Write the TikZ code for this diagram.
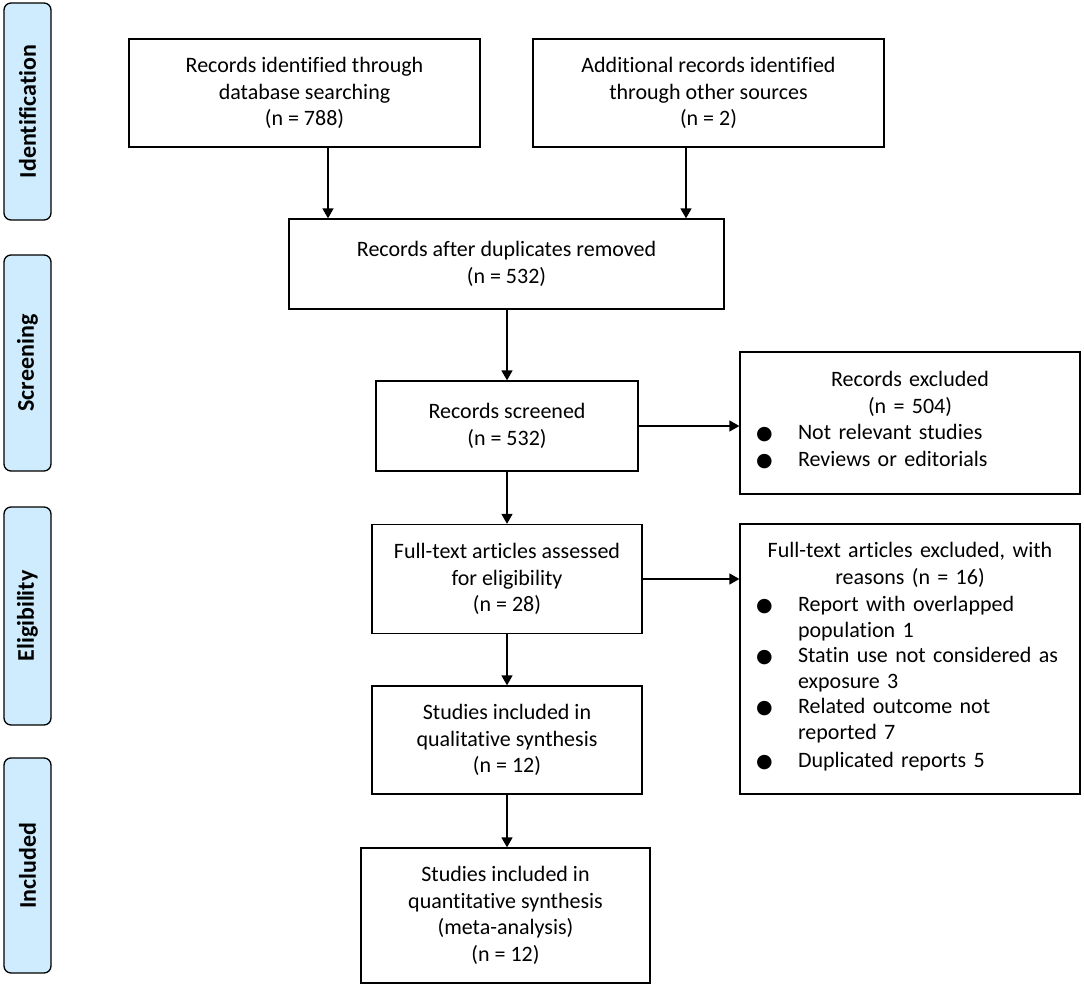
\documentclass[tikz,border=0pt]{standalone}
\usepackage{fontspec}
\setmainfont{Carlito}[Ligatures=NoCommon]
\newfontfamily\symfont{DejaVu Sans}
\usetikzlibrary{arrows.meta}
\definecolor{phasefill}{RGB}{206,236,253}
\tikzset{
  box/.style={draw, line width=1.3pt, align=center, inner sep=0pt, font=\fontsize{22}{26.7}\selectfont},
  exbox/.style={box, align=left, text width=308pt, inner xsep=16pt},
  phase/.style={draw, line width=1.3pt, fill=phasefill, rounded corners=7pt, rotate=90, minimum height=47pt, inner sep=0pt, font=\bfseries\fontsize{24}{26}\selectfont},
  arr/.style={line width=1.6pt, -{Triangle[length=10pt,width=11pt]}}
}
\newcommand\bul{\makebox[42pt][l]{\fontsize{19}{19}\symfont ●}}
\newcommand\bulitem[1]{\bul\parbox[t]{266pt}{\raggedright #1\strut}\par}
\begin{document}
\begin{tikzpicture}[x=1pt,y=-1pt]
\useasboundingbox (0,0) rectangle (1084,987);

% phases
\node[phase, minimum width=217pt] (ident) at (27.5,111.5) {Identification};
\node[phase, minimum width=216pt] (screen) at (27.5,363) {Screening};
\node[phase, minimum width=218pt] (elig) at (27.5,616) {Eligibility};
\node[phase, minimum width=215pt] (incl) at (27.5,865.5) {Included};

% main flow
\node[box, minimum width=351pt, minimum height=108pt] (dbrec) at (304.5,93) {Records identified through\\database searching\\(n = 788)};
\node[box, minimum width=351pt, minimum height=108pt] (otherrec) at (708.5,93) {Additional records identified\\through other sources\\(n = 2)};
\node[box, minimum width=435pt, minimum height=90pt] (dedup) at (506.5,264) {Records after duplicates removed\\(n = 532)};
\node[box, minimum width=262pt, minimum height=90pt] (screened) at (507,426) {Records screened\\(n = 532)};
\node[box, minimum width=270pt, minimum height=109pt] (fulltext) at (507,579) {Full-text articles assessed\\for eligibility\\(n = 28)};
\node[box, minimum width=270pt, minimum height=108pt] (qual) at (507,740) {Studies included in\\qualitative synthesis\\(n = 12)};
\node[box, minimum width=289pt, minimum height=135pt] (quant) at (505.5,915.5) {Studies included in\\quantitative synthesis\\(meta-analysis)\\(n = 12)};

% exclusions
\node[exbox, minimum height=142pt] (exscreen) at (910,423) {\centering Records excluded\\(n = 504)\par
\raggedright
\bulitem{Not relevant studies}
\bulitem{Reviews or editorials}};
\node[exbox, minimum height=270pt] (exfull) at (910,659) {\centering Full-text articles excluded, with\\reasons (n = 16)\par
\raggedright
\bulitem{Report with overlapped\\population 1}
\bulitem{Statin use not considered as\\exposure 3}
\bulitem{Related outcome not\\reported 7}
\bulitem{Duplicated reports 5}};

\path[draw,arr] ([xshift=23.5pt]dbrec.south) -- ([xshift=23.5pt]dbrec.south |- dedup.north);
\path[draw,arr] ([xshift=-22.5pt]otherrec.south) -- ([xshift=-22.5pt]otherrec.south |- dedup.north);
\path[draw,arr] (screened.north |- dedup.south) -- (screened.north);
\path[draw,arr] (screened.south) -- (fulltext.north);
\path[draw,arr] (fulltext.south) -- (qual.north);
\path[draw,arr] (qual.south) -- (qual.south |- quant.north);
\path[draw,arr] (screened.east) -- (screened.east -| exscreen.west);
\path[draw,arr] (fulltext.east) -- (fulltext.east -| exfull.west);
\end{tikzpicture}
\end{document}
